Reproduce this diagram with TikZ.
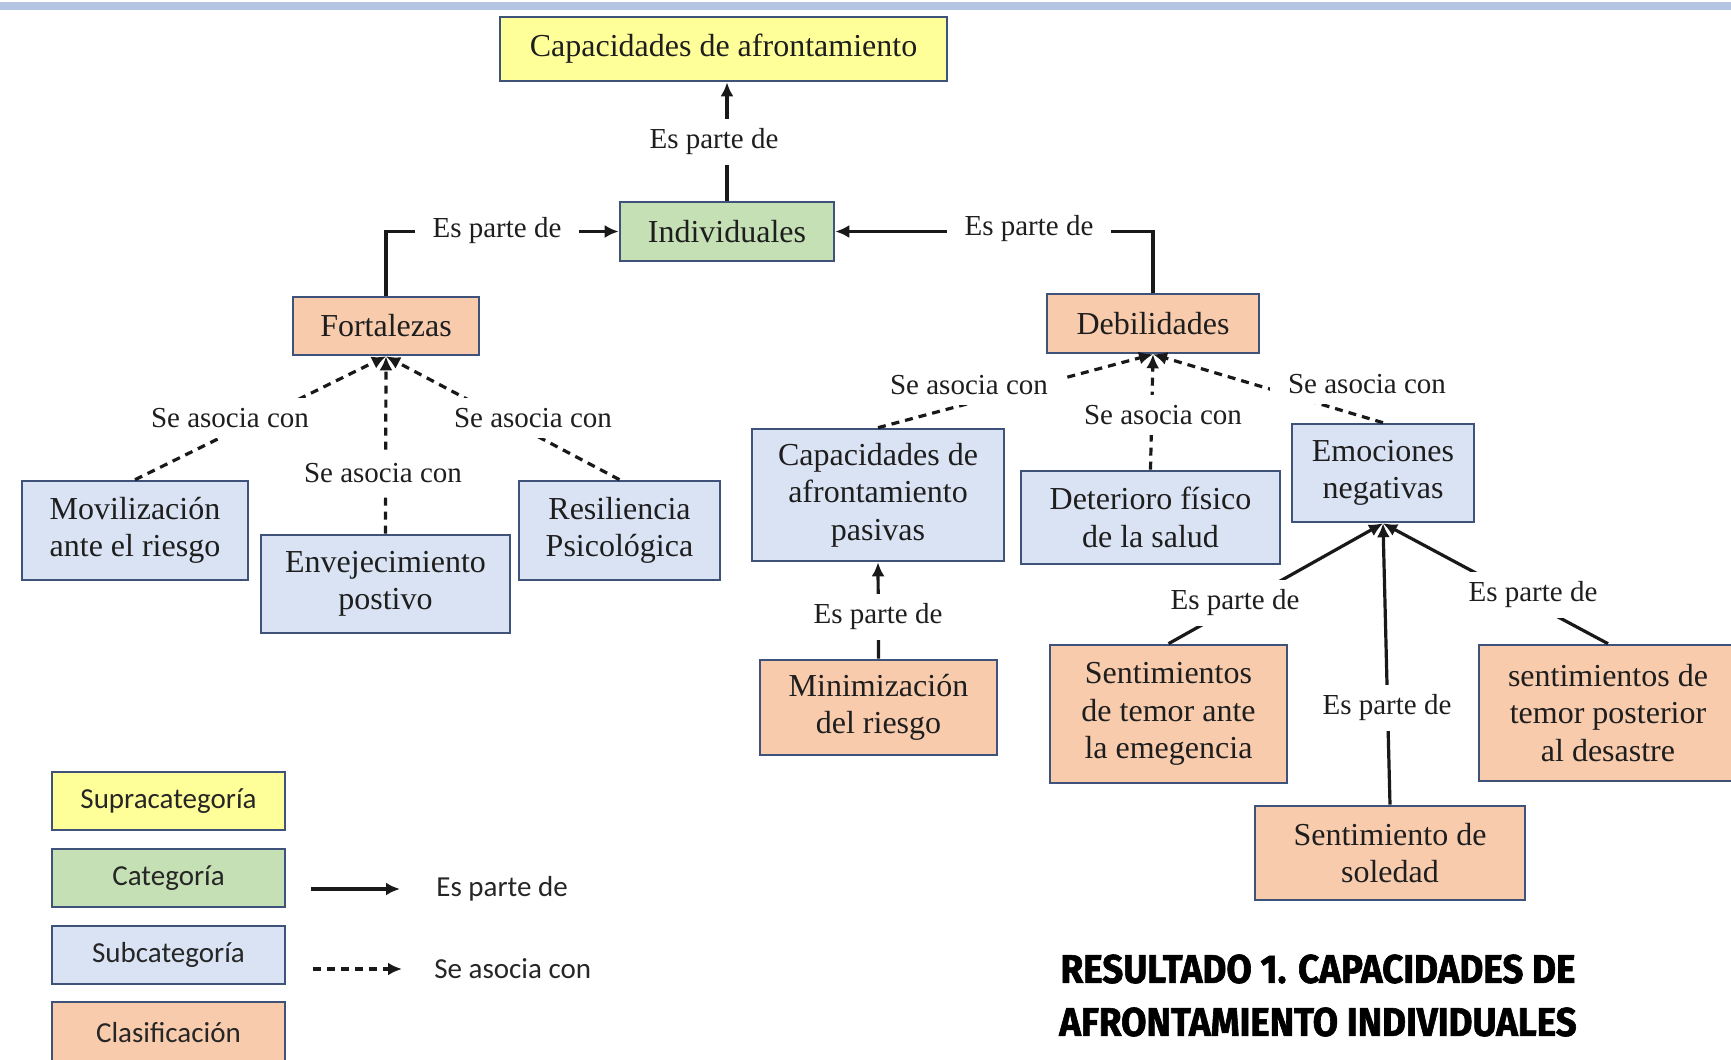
\documentclass[tikz,border=0pt]{standalone}
\usepackage{fontspec}
\setmainfont{Liberation Serif}
\newfontfamily\legendfont{Carlito}
\newfontfamily\titlefont[FakeStretch=0.92, BoldFeatures={FakeBold=1.5}]{Fira Sans}
\usetikzlibrary{arrows.meta}
\definecolor{cyellow}{HTML}{FFFF99}
\definecolor{cgreen}{HTML}{C5E0B4}
\definecolor{cblue}{HTML}{DAE3F3}
\definecolor{corange}{HTML}{F8CBAD}
\definecolor{cborder}{HTML}{3F527A}
\definecolor{cband}{HTML}{B4C5E4}
\definecolor{ctext}{HTML}{1E1E1E}
\tikzset{
  sz/.style 2 args={minimum width=#1*0.5pt, minimum height=#2*0.5pt},
  box/.style={draw=cborder, line width=1.3pt, inner sep=0pt, align=center, text=ctext,
    font=\fontsize{16}{18.8}\selectfont},
  supra/.style={box, fill=cyellow},
  cat/.style={box, fill=cgreen},
  sub/.style={box, fill=cblue},
  clas/.style={box, fill=corange},
  lbl/.style={fill=white, inner xsep=9pt, inner ysep=5pt, text=ctext, font=\fontsize{14.5}{17}\selectfont},
  part/.style={line width=1.6pt, draw=black!90, -{Latex[length=7pt,width=6.5pt]}},
  assoc/.style={part, dash pattern=on 4pt off 3pt},
  legbox/.style={box, text=black!85, font=\legendfont\fontsize{14.5}{17}\selectfont},
  legtext/.style={anchor=west, inner sep=0pt, text=black!85, font=\legendfont\fontsize{14.5}{17}\selectfont},
}
\begin{document}
\begin{tikzpicture}[x=0.5pt, y=-0.5pt]
\useasboundingbox (0,0) rectangle (1731,1060);
\fill[cband] (0,1.5) rectangle (1731,9.5);

% nodes
\node[supra, sz={447}{64}] (cap) at (723.5,49) {Capacidades de afrontamiento};
\node[cat, sz={214}{59}] (ind) at (727,231.5) {Individuales};
\node[clas, sz={186}{58}] (fort) at (386,326) {Fortalezas};
\node[clas, sz={212}{59}] (deb) at (1153,323.5) {Debilidades};
\node[sub, sz={226}{99}] (mov) at (135,530.5) {Movilización\\ante el riesgo};
\node[sub, sz={249}{98}] (env) at (385.5,584) {Envejecimiento\\postivo};
\node[sub, sz={201}{99}] (res) at (619.5,530.5) {Resiliencia\\Psicológica};
\node[sub, sz={252}{132}] (pas) at (878,495) {Capacidades de\\afrontamiento\\pasivas};
\node[sub, sz={259}{93}] (det) at (1150.5,517.5) {Deterioro físico\\de la salud};
\node[sub, sz={182}{98}] (emo) at (1383,473) {Emociones\\negativas};
\node[clas, sz={237}{95}] (min) at (878.5,707.5) {Minimización\\del riesgo};
\node[clas, sz={237}{138}] (ste) at (1168.5,714) {Sentimientos\\de temor ante\\la emegencia};
\node[clas, sz={270}{94}] (sol) at (1390,853) {Sentimiento de\\soledad};
\node[clas, sz={258}{136}] (stp) at (1608,713) {sentimientos de\\temor posterior\\al desastre};

% connectors
\draw[part] (ind.north) -- (ind.north |- cap.south);
\draw[part] (fort.north) |- (ind.west);
\draw[part] (deb.north) |- (ind.east);
\draw[assoc] (mov.north) -- (fort.south);
\draw[assoc] (env.north) -- (fort.south);
\draw[assoc] (res.north) -- (fort.south);
\draw[assoc] (pas.north) -- (deb.south);
\draw[assoc] (det.north) -- (deb.south);
\draw[assoc] (emo.north) -- (deb.south);
\draw[part] (min.north) -- (pas.south);
\draw[part] (ste.north) -- (emo.south);
\draw[part] (sol.north) -- (emo.south);
\draw[part] (stp.north) -- (emo.south);

% labels
\node[lbl] (l1) at (714,142) {Es parte de};
\node[lbl] (l2) at (497,231) {Es parte de};
\node[lbl] (l3) at (1029,229) {Es parte de};
\node[lbl] (l4) at (230,418) {Se asocia con};
\node[lbl] (l5) at (383,473) {Se asocia con};
\node[lbl] (l6) at (533,418) {Se asocia con};
\node[lbl] (l7) at (969,385) {Se asocia con};
\node[lbl] (l8) at (1163,415) {Se asocia con};
\node[lbl] (l9) at (1367,384) {Se asocia con};
\node[lbl] (l10) at (878,617) {Es parte de};
\node[lbl] (l11) at (1235,603) {Es parte de};
\node[lbl] (l12) at (1387,708) {Es parte de};
\node[lbl] (l13) at (1533,595) {Es parte de};

% legend
\node[legbox, fill=cyellow, sz={233}{58}] (lg1) at (168.5,801) {Supracategoría};
\node[legbox, fill=cgreen, sz={233}{58}] (lg2) at (168.5,878) {Categoría};
\node[legbox, fill=cblue, sz={233}{58}] (lg3) at (168.5,955) {Subcategoría};
\node[legbox, fill=corange, sz={233}{62}] (lg4) at (168.5,1033) {Clasificación};
\coordinate (a1s) at (311,889);
\coordinate (a1e) at (400,889);
\coordinate (a2s) at (313,969);
\coordinate (a2e) at (402,969);
\draw[part] (a1s) -- (a1e);
\draw[assoc] (a2s) -- (a2e);
\node[legtext] (lt1) at (436,889) {Es parte de};
\node[legtext] (lt2) at (434,969) {Se asocia con};

% title
\node[align=center, inner sep=0pt, text=black, font=\titlefont\bfseries\fontsize{20}{26.5}\selectfont] (title) at (1318,995.5) {RESULTADO 1. CAPACIDADES DE\\AFRONTAMIENTO INDIVIDUALES};
\end{tikzpicture}
\end{document}
